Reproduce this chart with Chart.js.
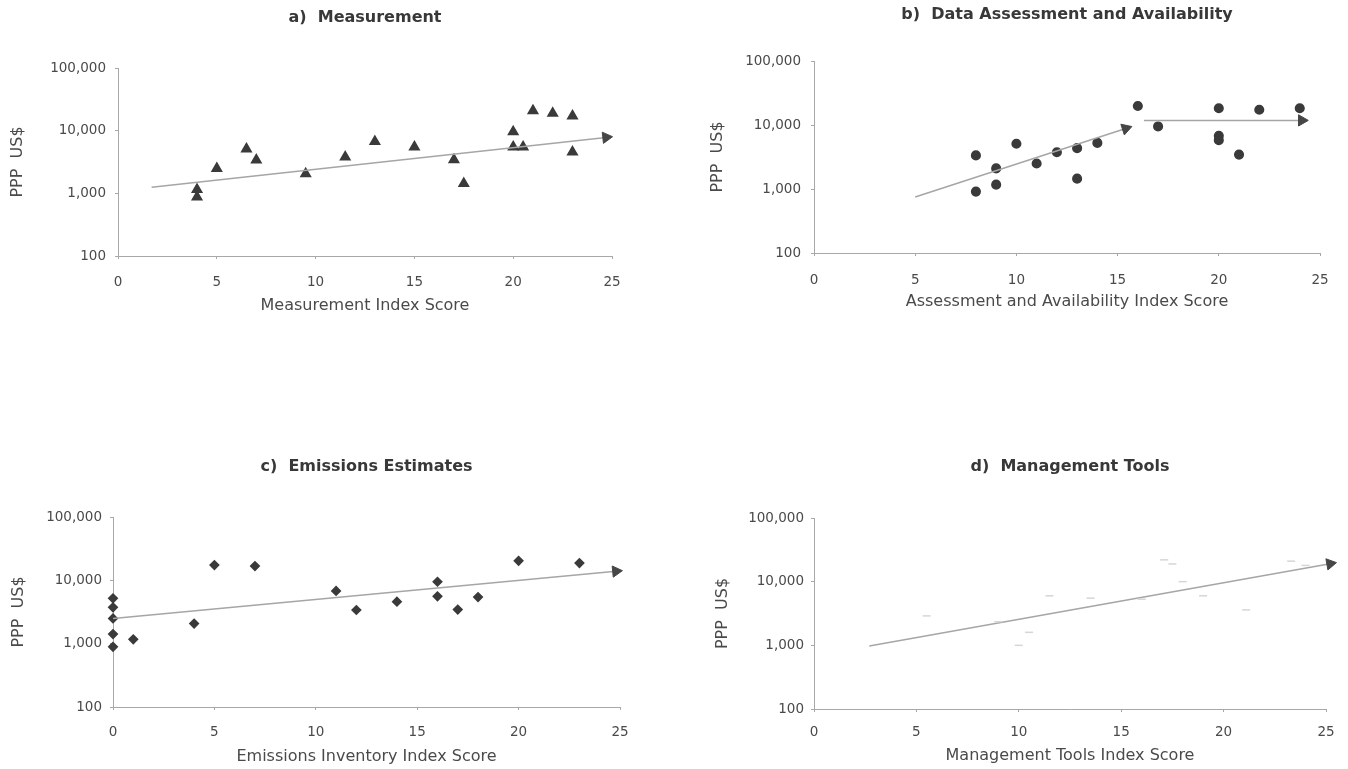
<!DOCTYPE html>
<html>
<head>
<meta charset="utf-8">
<title>PPP US$ against index scores</title>
<script src="https://cdn.jsdelivr.net/npm/chart.js@4.4.1/dist/chart.umd.min.js"></script>
<style>
  html, body { margin: 0; padding: 0; background: #fff; }
  body { width: 1348px; height: 769px; position: relative; overflow: hidden; }
  canvas { position: absolute; }
</style>
</head>
<body>
<canvas id="chartA" width="674" height="320" style="left:0;top:0"></canvas>
<canvas id="chartB" width="674" height="320" style="left:674px;top:0"></canvas>
<canvas id="chartC" width="674" height="329" style="left:0;top:440px"></canvas>
<canvas id="chartD" width="674" height="329" style="left:674px;top:440px"></canvas>
<script>
    // Values
    const yTickValues = [100, 1000, 10000, 100000];
    const yAxisTitle = 'PPP  US$';

    // a) Measurement
    const measureX = [4, 4, 5, 6.5, 7, 9.5, 11.5, 13, 15, 17, 17.5, 20, 20, 20.5, 21, 22, 23, 23];
    const measureY = [1150, 870, 2500, 5100, 3400, 2050, 3800, 6700, 5500, 3450, 1430, 9600, 5500, 5500, 20800, 18900, 17200, 4550];
    const measureTrendX = [1.7, 24.7];
    const measureTrendY = [1250, 7800];

    // b) Data Assessment and Availability
    const assessX = [8, 8, 9, 9, 10, 11, 12, 13, 13, 14, 16, 17, 20, 20, 20, 21, 22, 24];
    const assessY = [3350, 910, 2100, 1170, 5100, 2500, 3750, 4350, 1450, 5250, 19800, 9500, 18300, 6800, 5800, 3450, 17300, 18300];
    const assessTrendX = [5, 15.4];
    const assessTrendY = [750, 8800];
    const assessPlateauX = [16.3, 24.1];
    const assessPlateauY = [11800, 11800];

    // c) Emissions Estimates
    const emissX = [0, 0, 0, 0, 0, 1, 4, 5, 7, 11, 12, 14, 16, 16, 17, 18, 20, 23];
    const emissY = [5200, 3750, 2500, 1420, 890, 1170, 2080, 17400, 16800, 6800, 3400, 4600, 9500, 5600, 3450, 5450, 20300, 18700];
    const emissTrendX = [0, 24.8];
    const emissTrendY = [2500, 13900];

    // d) Management Tools (markers are almost washed out in the scan)
    const mgmtX = [5.5, 9, 10, 10.5, 11.5, 13.5, 16, 17.1, 17.5, 18, 19, 21.1, 23.3, 24];
    const mgmtY = [2900, 2350, 1000, 1600, 6000, 5500, 5300, 22000, 19000, 10000, 6000, 3600, 21000, 18000];
    const mgmtTrendX = [2.7, 25.2];
    const mgmtTrendY = [980, 19100];

    const TEXT = '#4a4a4a';
    const AXIS = '#a8a8a8';
    Chart.defaults.font.family = "'DejaVu Sans', 'Liberation Sans', sans-serif";

    function pointsFrom(xs, ys) {
    return xs.map((x, i) => ({ x, y: ys[i] }));
}

    // Turn the end triangle so it points along its line
    function arrowRotation(ctx) {
    const i = ctx.dataIndex;
    if (i === 0) return 0;
    const data = ctx.dataset.data;
    const { x: sx, y: sy } = ctx.chart.scales;
    const dx = sx.getPixelForValue(data[i].x) - sx.getPixelForValue(data[i - 1].x);
    const dy = sy.getPixelForValue(data[i].y) - sy.getPixelForValue(data[i - 1].y);
    return Math.atan2(dy, dx) * 180 / Math.PI + 90;
}

    function trendDataset(xs, ys) {
    return {
    data: pointsFrom(xs, ys),
    showLine: true,
    borderColor: '#a6a6a6',
    borderWidth: 1.5,
    pointStyle: 'triangle',
    pointRadius: ctx => ctx.dataIndex === xs.length - 1 ? 6.5 : 0,
    pointBackgroundColor: '#464646',
    pointBorderColor: '#464646',
    pointBorderWidth: 1,
    pointRotation: arrowRotation,
    clip: false
};
}

    function markerDataset(xs, ys, style, radius, color) {
    return {
    data: pointsFrom(xs, ys),
    showLine: false,
    pointStyle: style,
    pointRadius: radius,
    pointBackgroundColor: color,
    pointBorderColor: color,
    pointBorderWidth: 1.5,
    clip: false
};
}

    function makePanel(id, titleText, xTitleText, datasets, g) {
    return new Chart(document.getElementById(id), {
    type: 'scatter',
    data: { datasets },
    options: {
    responsive: false,
    animation: false,
    events: [],
    layout: { padding: { left: 0, right: g.padRight, top: 0, bottom: 0 } },
    plugins: {
    legend: { display: false },
    tooltip: { enabled: false },
    title: {
    display: true,
    text: titleText,
    fullSize: false,
    color: '#383838',
    font: { size: 16, weight: 'bold' },
    padding: { top: g.titleTop, bottom: g.titleBottom }
}
},
    scales: {
    x: {
    type: 'linear',
    min: 0,
    max: 25,
    border: { color: AXIS, width: 1 },
    grid: { drawOnChartArea: false, tickLength: 3, color: AXIS },
    ticks: { stepSize: 5, padding: g.xTickPad, color: TEXT, font: { size: 13.5 } },
    title: {
    display: true,
    text: xTitleText,
    color: TEXT,
    font: { size: 16 },
    padding: { top: 0, bottom: g.xTitlePad }
},
    afterFit: scale => { scale.height = g.xHeight; }
},
    y: {
    type: 'logarithmic',
    min: 100,
    max: 100000,
    border: { color: AXIS, width: 1 },
    grid: { drawOnChartArea: false, tickLength: 3, color: AXIS },
    afterBuildTicks: scale => { scale.ticks = yTickValues.map(v => ({ value: v })); },
    ticks: {
    callback: v => Number(v).toLocaleString('en-US'),
    padding: g.yTickPad,
    color: TEXT,
    font: { size: 13.5 }
},
    title: {
    display: true,
    text: yAxisTitle,
    color: TEXT,
    font: { size: 16 },
    padding: { top: g.yTitlePad, bottom: 0 }
},
    afterFit: scale => { scale.width = g.yWidth; }
}
}
}
});
}

    makePanel('chartA', 'a)  Measurement', 'Measurement Index Score', [
    trendDataset(measureTrendX, measureTrendY),
    markerDataset(measureX, measureY, 'triangle', 5.5, '#3a3a3a')
    ], { padRight: 62, titleTop: 8.4, titleBottom: 40.4, xHeight: 64, xTickPad: 15, xTitlePad: 4.4, yWidth: 118, yTickPad: 9, yTitlePad: 8.4 });

    makePanel('chartB', 'b)  Data Assessment and Availability', 'Assessment and Availability Index Score', [
    trendDataset(assessTrendX, assessTrendY),
    trendDataset(assessPlateauX, assessPlateauY),
    markerDataset(assessX, assessY, 'circle', 4.3, '#3a3a3a')
    ], { padRight: 28, titleTop: 5.4, titleBottom: 36.4, xHeight: 67, xTickPad: 15.9, xTitlePad: 8.4, yWidth: 140, yTickPad: 10, yTitlePad: 34.4 });

    makePanel('chartC', 'c)  Emissions Estimates', 'Emissions Inventory Index Score', [
    trendDataset(emissTrendX, emissTrendY),
    markerDataset(emissX, emissY, 'rectRot', 4.3, '#3a3a3a')
    ], { padRight: 54, titleTop: 17.4, titleBottom: 40.4, xHeight: 62, xTickPad: 13.9, xTitlePad: 2.4, yWidth: 113, yTickPad: 8, yTitlePad: 9.4 });

    makePanel('chartD', 'd)  Management Tools', 'Management Tools Index Score', [
    markerDataset(mgmtX, mgmtY, 'line', 4, '#d6d6d6'),
    trendDataset(mgmtTrendX, mgmtTrendY)
    ], { padRight: 22, titleTop: 17.4, titleBottom: 41.4, xHeight: 60, xTickPad: 11.9, xTitlePad: 3.4, yWidth: 140, yTickPad: 7, yTitlePad: 39.4 });
</script>
</body>
</html>
